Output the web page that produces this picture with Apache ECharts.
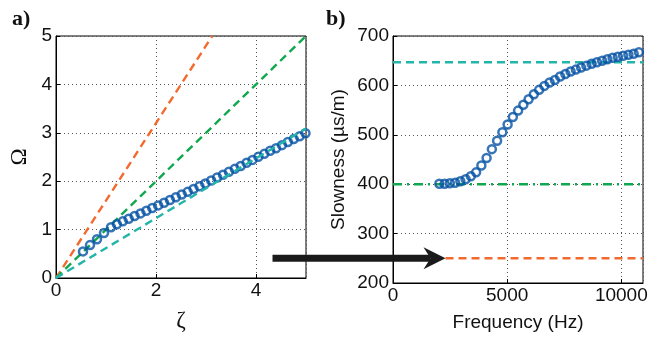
<!DOCTYPE html>
<html><head><meta charset="utf-8">
<script src="https://cdn.jsdelivr.net/npm/echarts@6/dist/echarts.min.js"></script>
<style>html,body{margin:0;padding:0;background:#fff}#c{width:663px;height:337px}</style>
</head><body><div id="c"></div>
<script>
// Panel a data: dimensionless wavenumber (zeta) and frequency (Omega)
const zeta  = [0.54,0.68,0.82,0.96,1.10,1.218,1.336,1.454,1.572,1.690,1.807,1.925,2.043,2.161,2.279,2.397,2.515,2.633,2.751,2.869,2.986,3.104,3.222,3.340,3.458,3.576,3.694,3.812,3.930,4.047,4.165,4.283,4.401,4.519,4.637,4.755,4.873,4.990];
const omega = [0.55,0.68,0.80,0.93,1.05,1.11,1.17,1.225,1.28,1.335,1.39,1.445,1.50,1.555,1.61,1.67,1.725,1.78,1.84,1.895,1.955,2.015,2.075,2.135,2.195,2.255,2.315,2.38,2.44,2.505,2.565,2.63,2.68,2.745,2.81,2.87,2.93,2.99];
// Panel a reference lines (zeta, Omega end points)
const lineOrangeA = {x:[0,3.125], y:[0,5]};
const lineGreenA  = {x:[0,5],     y:[0,5]};
const lineCyanA   = {x:[0,5],     y:[0,3.09]};
// Panel b data
const freq = [2030,2260,2490,2720,2950,3180,3410,3640,3870,4100,4330,4560,4790,5020,5250,5480,5710,5940,6170,6400,6630,6860,7090,7320,7550,7780,8010,8240,8470,8700,8930,9160,9390,9620,9850,10080,10310,10540,10770];
const slow = [401,401,402,403,406,410,416,424,438,453,471,488,505,521,536,549,561,572,582,591,599,606,611,618,623,628,632,636,640,644,647,650,653,656,658,660,662,664,667];
const cyanLevel = 647, greenLevel = 400, orangeLevel = 250, orangeStart = 2300;
const fMax = 10950;

const BLUE='#0652a4', ORANGE='#f26a2e', GREEN='#0fa84f', CYAN='#22b5a9';
const sans = '"Liberation Sans", Arial, sans-serif';
const serif = '"Liberation Serif", "Times New Roman", serif';
const FS = 19;

function axisBase(){
  return {
    axisLine:{show:true,onZero:false,lineStyle:{color:'#000',width:1}},
    axisTick:{show:true,inside:true,length:4,lineStyle:{color:'#000'}},
    splitLine:{show:true,lineStyle:{color:'#555',type:[1,3],width:1}}
  };
}
const plain = v => String(v);
const chart = echarts.init(document.getElementById('c'),null,{renderer:'canvas'});
const pairs = (xs,ys)=>xs.map((x,i)=>[x,ys[i]]);
const dash = [8,5];
const LW = 2.4;
const ring = {color:'rgba(0,0,0,0)',borderColor:BLUE,borderWidth:2.5};
const option = {
  animation:false,
  grid:[
    {left:56,top:36,width:250,height:251,show:true,borderColor:'#000',borderWidth:1,containLabel:false},
    {left:393,top:36,width:250,height:251,show:true,borderColor:'#000',borderWidth:1,containLabel:false}
  ],
  xAxis:[
    Object.assign(axisBase(),{type:'value',gridIndex:0,min:0,max:5,interval:2,
      name:'ζ',nameLocation:'middle',nameGap:31,nameTextStyle:{fontFamily:serif,fontSize:23,color:'#111'},
      axisLabel:{color:'#111',fontFamily:sans,fontSize:FS,margin:3,showMaxLabel:false,formatter:plain}}),
    Object.assign(axisBase(),{type:'value',gridIndex:1,min:0,max:fMax,interval:5000,
      name:'Frequency (Hz)',nameLocation:'middle',nameGap:30,nameTextStyle:{fontFamily:sans,fontSize:FS,color:'#111'},
      axisLabel:{color:'#111',fontFamily:sans,fontSize:FS,margin:3,showMaxLabel:false,formatter:plain}})
  ],
  yAxis:[
    Object.assign(axisBase(),{type:'value',gridIndex:0,min:0,max:5,interval:1,
      name:'Ω',nameLocation:'middle',nameGap:25,nameTextStyle:{fontFamily:serif,fontSize:23,color:'#111'},
      axisLabel:{color:'#111',fontFamily:sans,fontSize:FS,margin:4,formatter:plain}}),
    Object.assign(axisBase(),{type:'value',gridIndex:1,min:200,max:700,interval:100,
      name:'Slowness (µs/m)',nameLocation:'middle',nameGap:45,nameTextStyle:{fontFamily:sans,fontSize:FS,color:'#111'},
      axisLabel:{color:'#111',fontFamily:sans,fontSize:FS,margin:4,formatter:plain}})
  ],
  series:[
    {type:'line',xAxisIndex:0,yAxisIndex:0,data:pairs(lineOrangeA.x,lineOrangeA.y),showSymbol:false,lineStyle:{color:ORANGE,width:LW,type:dash},z:2},
    {type:'line',xAxisIndex:0,yAxisIndex:0,data:pairs(lineGreenA.x,lineGreenA.y),showSymbol:false,lineStyle:{color:GREEN,width:LW,type:dash},z:2},
    {type:'line',xAxisIndex:0,yAxisIndex:0,data:pairs(lineCyanA.x,lineCyanA.y),showSymbol:false,lineStyle:{color:CYAN,width:LW,type:dash},z:4},
    {type:'scatter',xAxisIndex:0,yAxisIndex:0,data:pairs(zeta,omega),symbol:'circle',symbolSize:8,itemStyle:ring,z:3},
    {type:'line',xAxisIndex:1,yAxisIndex:1,data:[[0,cyanLevel],[fMax,cyanLevel]],showSymbol:false,lineStyle:{color:CYAN,width:LW,type:dash},z:2},
    {type:'line',xAxisIndex:1,yAxisIndex:1,data:[[0,greenLevel],[fMax,greenLevel]],showSymbol:false,lineStyle:{color:GREEN,width:LW,type:[9,5,2,5]},z:2},
    {type:'line',xAxisIndex:1,yAxisIndex:1,data:[[orangeStart,orangeLevel],[fMax,orangeLevel]],showSymbol:false,lineStyle:{color:ORANGE,width:LW,type:dash},z:2},
    {type:'scatter',xAxisIndex:1,yAxisIndex:1,data:pairs(freq,slow),symbol:'circle',symbolSize:8,itemStyle:ring,z:3}
  ]
};
chart.setOption(option);
// Arrow annotation pointing at the start of the orange line in panel b
const tip = chart.convertToPixel({xAxisIndex:1,yAxisIndex:1},[orangeStart,orangeLevel]);
const tx = tip[0], ty = tip[1];
chart.setOption({graphic:[
  {type:'text',left:12,top:8,style:{text:'a)',font:'bold 22px '+serif,fill:'#111'}},
  {type:'text',left:326,top:8,style:{text:'b)',font:'bold 22px '+serif,fill:'#111'}},
  {type:'line',shape:{x1:tx-173,y1:ty,x2:tx-15,y2:ty},style:{stroke:'#1a1a1a',lineWidth:7},z:10},
  {type:'polygon',shape:{points:[[tx,ty],[tx-22,ty-11],[tx-15,ty],[tx-22,ty+11]]},style:{fill:'#1a1a1a'},z:10}
]});
</script></body></html>
